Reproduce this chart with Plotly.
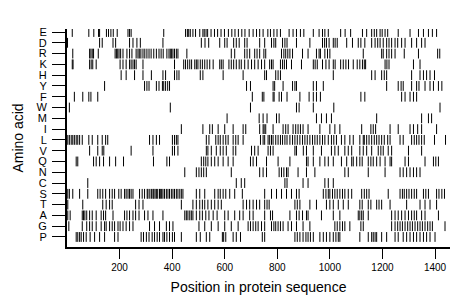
import plotly.graph_objects as go

# Amino acid rows (bottom to top) and residue positions
amino_order = ['P', 'G', 'A', 'T', 'S', 'C', 'N', 'Q', 'V', 'L',
               'I', 'M', 'W', 'F', 'Y', 'H', 'K', 'R', 'D', 'E']

pos_E = [20, 83, 102, 120, 124, 150, 158, 167, 176, 191, 232, 238, 244, 368,
         451, 458, 463, 469, 479, 489, 505, 517, 522, 529, 535, 548, 561, 573, 586, 599,
         614, 627, 639, 652, 665, 677, 693, 708, 721, 733, 746,
         764, 774, 787, 799, 812, 845, 860, 873, 888, 901, 937, 959, 972, 981, 994,
         1041, 1058, 1079, 1124, 1140, 1159, 1169, 1178, 1191, 1199, 1210, 1220, 1260,
         1305, 1337, 1356, 1375, 1390, 1406]
pos_D = [2, 124, 134, 175, 185, 238, 251, 266, 279, 365, 511, 525, 539, 581, 600, 609,
         634, 644, 655, 676, 685, 733, 752, 778, 787, 794, 820, 829, 837, 873, 924, 972,
         980, 987, 997, 1013, 1020, 1028, 1064, 1086, 1108, 1118, 1133, 1159, 1172, 1182,
         1191, 1203, 1216, 1225, 1235, 1248, 1258, 1273, 1286, 1311, 1330, 1349, 1362]
pos_R = [22, 86, 91, 96, 101, 119, 183, 188, 193, 198, 204, 213, 228, 238, 247, 263, 270,
         275, 281, 289, 296, 304, 312, 320, 330, 340, 350, 358, 366, 380, 388, 393, 398,
         403, 409, 416, 422, 456, 625, 638, 676, 685, 695, 714, 723, 733, 749, 756, 816,
         825, 832, 840, 848, 858, 896, 917, 949, 959, 964, 981, 991, 1000, 1127, 1197,
         1203, 1216, 1225, 1235, 1248, 1283, 1337, 1410, 1418]
pos_K = [20, 23, 86, 92, 98, 111, 202, 213, 225, 238, 244, 251, 257, 263, 289, 409, 444,
         451, 459, 467, 474, 486, 492, 498, 507, 515, 524, 533, 543, 556, 581, 587, 594,
         616, 625, 634, 644, 655, 663, 676, 689, 702, 714, 727, 740, 752, 771, 778, 784,
         812, 820, 827, 835, 854, 892, 937, 944, 952, 972, 985, 997, 1013, 1020, 1041,
         1051, 1061, 1071, 1089, 1104, 1114, 1124, 1131, 1136, 1210, 1217, 1225, 1318, 1343]
pos_H = [206, 225, 257, 289, 321, 365, 375, 409, 418, 426, 507, 517, 594, 670, 752, 759,
         794, 803, 812, 1013, 1159, 1172, 1197, 1207, 1216, 1311, 1343, 1356, 1368, 1381, 1398]
pos_Y = [143, 295, 304, 312, 340, 350, 363, 368, 375, 383, 390, 683, 698, 784, 790, 822,
         858, 867, 873, 937, 949, 975, 1216, 1260, 1271, 1279, 1311, 1330, 1339, 1362,
         1381, 1394, 1413, 1426]
pos_F = [28, 60, 83, 91, 117, 705, 743, 749, 784, 788, 807, 816, 837, 886, 921, 937, 949,
         964, 1118, 1133, 1273, 1286, 1305, 1318, 1330]
pos_W = [9, 393, 698, 873, 883, 937, 1015, 1419]
pos_M = [609, 731, 746, 761, 797, 807, 949, 968, 987, 1006, 1178, 1349, 1375, 1387]
pos_I = [435, 517, 543, 553, 575, 600, 632, 670, 680, 733, 746, 750, 756, 784, 822, 832,
         841, 860, 870, 879, 888, 898, 917, 962, 1000, 1019, 1038, 1121, 1156, 1165, 1174,
         1229, 1260, 1305, 1318, 1334, 1349, 1406]
pos_L = [3, 9, 16, 22, 28, 35, 41, 48, 58, 83, 96, 117, 134, 147, 155, 314, 327, 340, 352,
         401, 409, 416, 422, 530, 540, 566, 575, 583, 594, 604, 613, 632, 642, 651, 670,
         736, 746, 752, 765, 771, 778, 784, 794, 803, 812, 820, 829, 837, 848, 858, 867,
         876, 886, 896, 905, 914, 924, 934, 943, 952, 962, 972, 981, 994, 1006, 1015, 1025,
         1044, 1057, 1076, 1089, 1114, 1127, 1131, 1140, 1149, 1159, 1169, 1178, 1187,
         1197, 1207, 1220, 1229, 1267, 1279, 1311, 1321, 1330, 1339, 1349, 1359, 1398, 1440]
pos_V = [86, 117, 134, 140, 244, 327, 401, 409, 422, 530, 536, 549, 568, 583, 594, 606,
         632, 642, 702, 714, 727, 765, 774, 784, 867, 873, 899, 911, 937, 968, 1006, 1019,
         1032, 1057, 1070, 1083, 1114, 1127, 1140, 1159, 1184, 1194, 1203, 1222, 1235,
         1299, 1349]
pos_Q = [35, 41, 101, 111, 124, 139, 162, 185, 215, 329, 380, 390, 511, 520, 528, 536,
         549, 562, 575, 594, 613, 632, 698, 708, 721, 759, 803, 848, 911, 917, 937, 962,
         981, 994, 1013, 1044, 1064, 1083, 1089, 1102, 1114, 1123, 1146, 1156, 1165, 1178,
         1191, 1210, 1229, 1235, 1286, 1299, 1362, 1394, 1403, 1413]
pos_N = [448, 492, 502, 511, 520, 530, 625, 733, 746, 759, 807, 816, 825, 835, 841, 879,
         911, 943, 1057, 1070, 1146, 1210, 1267, 1279, 1292, 1305, 1318, 1330, 1343]
pos_C = [79, 644, 663, 676, 829, 837, 898, 917, 981, 994, 1013]
pos_S = [3, 9, 22, 48, 79, 117, 126, 136, 147, 162, 172, 181, 197, 206, 219, 225, 232, 238,
         244, 251, 276, 286, 295, 305, 308, 315, 321, 327, 330, 335, 340, 345, 352, 355,
         360, 365, 371, 378, 384, 390, 397, 403, 409, 416, 422, 429, 435, 441, 492, 505,
         524, 562, 575, 583, 594, 604, 619, 638, 667, 752, 778, 797, 816, 835, 854, 873,
         883, 975, 985, 994, 1000, 1010, 1019, 1028, 1038, 1048, 1057, 1070, 1083, 1121,
         1131, 1140, 1149, 1222, 1267, 1276, 1283, 1292, 1301, 1311, 1321, 1330, 1356,
         1365, 1375, 1406, 1415, 1426, 1436]
pos_T = [3, 60, 136, 149, 162, 172, 261, 274, 289, 435, 479, 492, 505, 515, 524, 536, 549,
         562, 575, 587, 670, 683, 695, 708, 721, 733, 752, 761, 769, 867, 876, 886, 924,
         949, 987, 1000, 1013, 1032, 1051, 1070, 1114, 1123, 1146, 1156, 1178, 1187, 1197,
         1229, 1292, 1343, 1362, 1381, 1406]
pos_A = [3, 12, 58, 63, 68, 75, 86, 96, 111, 130, 139, 147, 175, 219, 228, 238, 251, 261,
         274, 295, 308, 327, 365, 448, 454, 460, 467, 473, 479, 492, 505, 515, 528, 540,
         556, 571, 600, 613, 638, 657, 670, 695, 708, 752, 774, 782, 848, 873, 883, 896,
         911, 917, 968, 1013, 1038, 1108, 1114, 1121, 1127, 1146, 1235, 1248, 1260, 1273,
         1286, 1299, 1311, 1321, 1330, 1349, 1362, 1413]
pos_G = [7, 58, 75, 86, 96, 111, 130, 143, 149, 162, 172, 181, 194, 202, 213, 225, 238,
         251, 314, 333, 352, 378, 390, 403, 502, 524, 549, 575, 600, 625, 651, 689, 698,
         708, 718, 727, 740, 752, 778, 787, 794, 803, 812, 822, 841, 854, 873, 898, 924,
         1019, 1028, 1038, 1048, 1057, 1076, 1118, 1127, 1235, 1248, 1258, 1267, 1276,
         1286, 1296, 1305, 1314, 1324, 1334, 1343, 1352, 1362, 1372, 1381, 1390, 1438]
pos_P = [35, 41, 48, 54, 63, 73, 88, 105, 124, 143, 181, 194, 282, 291, 302, 312, 324,
         333, 343, 352, 365, 371, 380, 390, 401, 409, 435, 492, 507, 530, 543, 591, 596,
         604, 632, 644, 660, 743, 752, 867, 876, 886, 898, 909, 917, 926, 937, 962, 975,
         987, 1000, 1013, 1023, 1032, 1038, 1114, 1146, 1159, 1165, 1172, 1178, 1197,
         1216, 1248, 1260, 1279, 1292, 1305, 1318, 1330, 1343, 1356, 1368, 1381, 1400]

x_ticks = [200, 400, 600, 800, 1000, 1200, 1400]

positions = {
    'E': pos_E, 'D': pos_D, 'R': pos_R, 'K': pos_K, 'H': pos_H, 'Y': pos_Y,
    'F': pos_F, 'W': pos_W, 'M': pos_M, 'I': pos_I, 'L': pos_L, 'V': pos_V,
    'Q': pos_Q, 'N': pos_N, 'C': pos_C, 'S': pos_S, 'T': pos_T, 'A': pos_A,
    'G': pos_G, 'P': pos_P,
}

xs, ys = [], []
for aa in amino_order:
    for p in positions[aa]:
        xs.append(p)
        ys.append(aa)

fig = go.Figure()
fig.add_trace(go.Scatter(
    x=xs, y=ys, mode='markers',
    marker=dict(symbol='line-ns', size=7, line=dict(width=1, color='black')),
    hoverinfo='x+y', showlegend=False,
))

font_family = 'Liberation Sans, Arial, sans-serif'
fig.update_layout(
    width=460, height=299,
    margin=dict(l=59, r=18, t=21, b=60),
    paper_bgcolor='white', plot_bgcolor='white',
    font=dict(family=font_family, color='black'),
    xaxis=dict(
        range=[0, 1457], tickmode='array', tickvals=x_ticks, automargin=False,
        ticks='outside', ticklen=10, tickwidth=1, tickcolor='black',
        showline=True, linecolor='black', linewidth=2, showgrid=False, zeroline=False,
        tickfont=dict(size=10, family=font_family, color='black'),
        title=dict(text='Position in protein sequence', font=dict(size=14), standoff=10),
    ),
    yaxis=dict(
        type='category', categoryorder='array', categoryarray=amino_order,
        tickmode='array', tickvals=amino_order, ticktext=amino_order,
        range=[-0.93, 19.28], automargin=False,
        ticks='outside', ticklen=13, tickwidth=1, tickcolor='black',
        ticklabelstandoff=3,
        showline=True, linecolor='black', linewidth=2, showgrid=False, zeroline=False,
        tickfont=dict(size=11, family=font_family, color='black'),
        title=dict(text='Amino acid', font=dict(size=14), standoff=10),
    ),
)

fig.write_html('out.html')
